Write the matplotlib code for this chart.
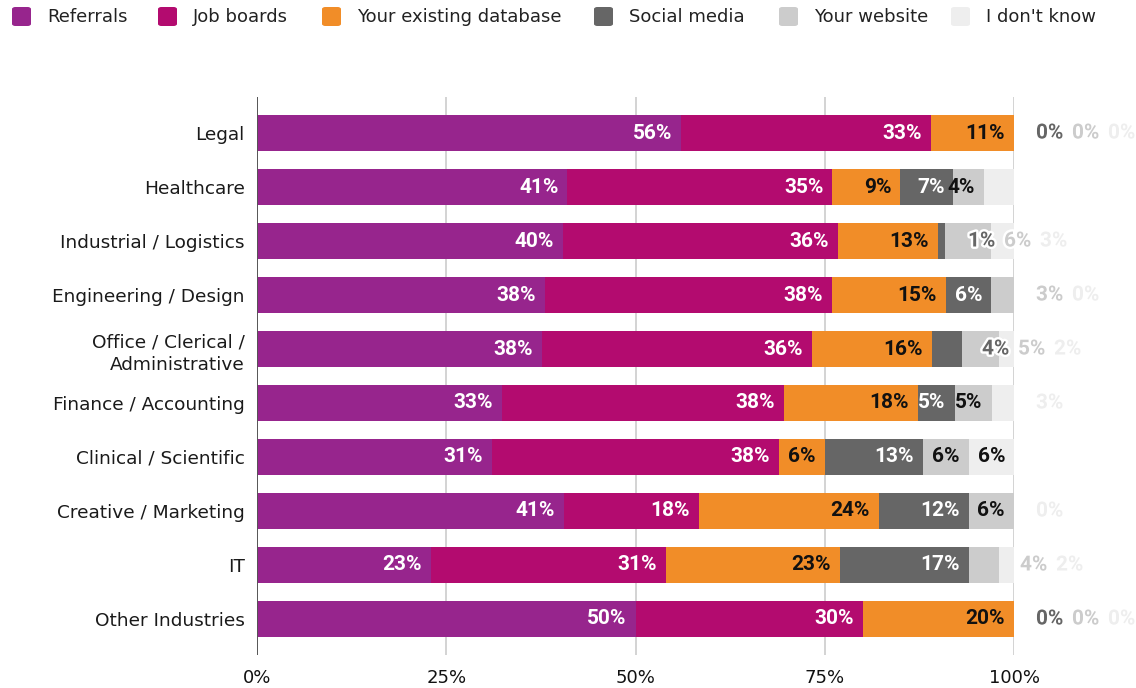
import matplotlib.pyplot as plt
import matplotlib.patheffects as pe
from matplotlib import font_manager
from matplotlib.patches import FancyBboxPatch
import numpy as np

industries = ["Legal", "Healthcare", "Industrial / Logistics", "Engineering / Design",
              "Office / Clerical /\nAdministrative", "Finance / Accounting",
              "Clinical / Scientific", "Creative / Marketing", "IT", "Other Industries"]
sources = ["Referrals", "Job boards", "Your existing database", "Social media",
           "Your website", "I don't know"]

referrals = [56, 41, 40, 38, 38, 33, 31, 41, 23, 50]
job_boards = [33, 35, 36, 38, 36, 38, 38, 18, 31, 30]
database = [11, 9, 13, 15, 16, 18, 6, 24, 23, 20]
social = [0, 7, 1, 6, 4, 5, 13, 12, 17, 0]
website = [0, 4, 6, 3, 5, 5, 6, 6, 4, 0]
dont_know = [0, 4, 3, 0, 2, 3, 6, 0, 2, 0]

colors = ["#97258d", "#b30b6f", "#f18d28", "#666666", "#cccccc", "#eeeeee"]
text_colors = ["white", "white", "#111111", "white", "#111111", "#111111"]

# label placement per row: i = inside the segment, o = to the right of the bar, n = none
placement = ["iiiooo", "iiiiin", "iiiooo", "iiiioo", "iiiooo",
             "iiiiio", "iiiiii", "iiiiio", "iiiioo", "iiiooo"]
# x (pixels) where the row's outside labels start
outside_px = [1036, 0, 968, 1036, 982, 1036, 0, 1036, 1020, 1036]

W, H = 1136, 688
x0, x1 = 257, 1014
px = (x1 - x0) / 100.0

# pick the regular-width Roboto Bold file (skip condensed cuts)
bold_file = None
for f in font_manager.fontManager.ttflist:
    if f.name == "Roboto" and f.weight in (700, "bold") and "ondensed" not in f.fname \
            and f.style == "normal" and f.stretch in ("normal", 500):
        bold_file = f.fname
        break
if bold_file:
    label_prop = font_manager.FontProperties(fname=bold_file, size=15)
else:
    label_prop = font_manager.FontProperties(family="Roboto", weight="bold", size=15)

fig = plt.figure(figsize=(W / 100, H / 100), dpi=100)
ax = fig.add_axes([x0 / W, 1 - 655 / H, (x1 - x0) / W, 558 / H])

values = np.array([referrals, job_boards, database, social, website, dont_know], dtype=float).T
totals = values.sum(axis=1)
shares = values / totals[:, None] * 100
y = np.arange(len(industries))

lefts = np.zeros(len(industries))
for k in range(len(sources)):
    ax.barh(y, shares[:, k], left=lefts, height=0.65, color=colors[k], zorder=3)
    lefts += shares[:, k]

halo = [pe.withStroke(linewidth=3.5, foreground="white")]
for i in range(len(industries)):
    ends = np.cumsum(shares[i])
    n_out = 0
    for k in range(len(sources)):
        txt = f"{int(values[i, k])}%"
        mode = placement[i][k]
        if mode == "i":
            ax.text(ends[k] - 9 / px, i, txt, ha="right", va="center",
                    color=text_colors[k], zorder=5, fontproperties=label_prop)
        elif mode == "o":
            xs = (outside_px[i] - x0) / px + n_out * 36 / px
            ax.text(xs, i, txt, ha="left", va="center", color=colors[k],
                    path_effects=halo, zorder=6, clip_on=False, fontproperties=label_prop)
            n_out += 1

ax.set_xlim(0, 100)
ax.set_ylim(len(industries) - 1 + 0.667, -0.667)
ax.set_xticks([0, 25, 50, 75, 100])
ax.set_xticklabels(["0%", "25%", "50%", "75%", "100%"], fontsize=13, color="#111111")
ax.set_yticks(y)
ax.set_yticklabels(industries, fontsize=13.3, color="#1a1a1a", linespacing=1.35)
ax.tick_params(axis="x", length=0, pad=10)
ax.tick_params(axis="y", length=0, pad=9)
for s in ax.spines.values():
    s.set_visible(False)
for v in [25, 50, 75, 100]:
    ax.axvline(v, color="#cccccc", lw=1.2, zorder=1)
ax.axvline(0, color="#555555", lw=1.4, zorder=4)

# legend along the top
swatch_x = [12, 158, 322, 594, 779, 951]
for k, name in enumerate(sources):
    sx = swatch_x[k]
    fig.add_artist(FancyBboxPatch((sx / W, 1 - 26 / H), 19 / W, 19 / H,
                                  boxstyle="round,pad=0,rounding_size=0.003",
                                  transform=fig.transFigure, color=colors[k], lw=0))
    fig.text((sx + 35) / W, 1 - 17 / H, name, ha="left", va="center",
             fontsize=13, color="#222222")

fig.savefig("out.png", dpi=100)
